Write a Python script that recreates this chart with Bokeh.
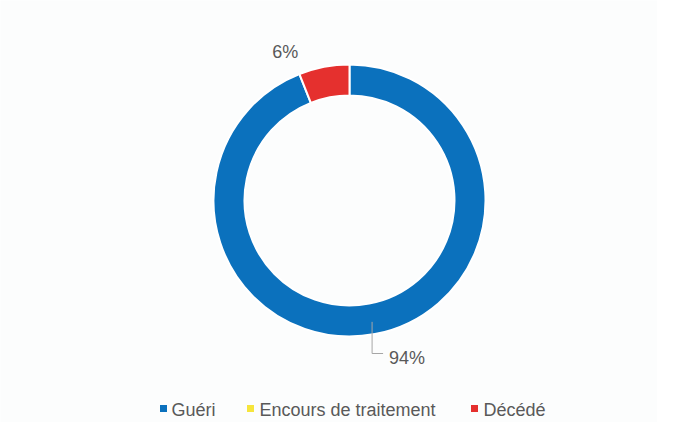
import math
from bokeh.plotting import figure
from bokeh.models import Range1d, ColumnDataSource
from bokeh.core.properties import value
from bokeh.embed import file_html
from bokeh.resources import INLINE

# ---- data ----
categories = ["Guéri", "Encours de traitement", "Décédé"]
values = [94, 0, 6]
colors = ["#0b71bd", "#f6e53c", "#e5302e"]
labels = ["94%", "", "6%"]

# ---- layout ----
W, H = 657, 422
PAGE_H = 438


def Y(img_y):
    return PAGE_H - img_y


p = figure(width=W, height=H, output_backend="svg", toolbar_location=None,
           x_range=Range1d(0, W), y_range=Range1d(PAGE_H - H, PAGE_H),
           min_border=0, background_fill_color="#fcfdfd",
           border_fill_color="#fcfdfd", outline_line_color=None)
p.axis.visible = False
p.grid.visible = False

cx, cy = 349, Y(200)
r_in, r_out = 105, 136
total = float(sum(values))

starts, ends, xs, ys, cols = [], [], [], [], []
mids = []
a = math.pi / 2
for v, c in zip(values, colors):
    e = a - v / total * 2 * math.pi
    mids.append((a + e) / 2)
    if v > 0:
        starts.append(a)
        ends.append(e)
        cols.append(c)
        xs.append(cx)
        ys.append(cy)
    a = e

src = ColumnDataSource(dict(x=xs, y=ys, s=starts, e=ends, c=cols))
p.annular_wedge(x="x", y="y", inner_radius=r_in, outer_radius=r_out,
                start_angle="s", end_angle="e", direction="clock",
                fill_color="c", line_color="white", line_width=2, source=src)

font = value("Liberation Sans")
txt_color = "#595959"
lead_color = "#a6a6a6"

# 94% label with leader line
i = 0
rm = (r_in + r_out) / 2
lx = cx + rm * math.cos(mids[i])
ly = cy + rm * math.sin(mids[i])
ly_end = Y(353)
p.line([lx, lx, lx + 11], [ly - 3, ly_end, ly_end], line_color=lead_color, line_width=1)
p.text(x=[lx + 17], y=[ly_end - 4], text=[labels[i]], text_font=font,
       text_font_size="18px", text_color=txt_color,
       text_align="left", text_baseline="middle")

# 6% label
i = 2
ox = cx + (r_out + 15) * math.cos(mids[i])
oy = cy + (r_out + 15) * math.sin(mids[i])
p.text(x=[ox - 36], y=[oy], text=[labels[i]], text_font=font,
       text_font_size="18px", text_color=txt_color,
       text_align="center", text_baseline="middle")

# legend
sq_x = [163, 250, 474]
tx_x = [171, 259, 483]
leg_y = Y(409)
p.scatter(x=sq_x, y=[leg_y + 1] * 3, marker="square", size=7,
          fill_color=colors, line_color=None)
p.text(x=tx_x, y=[leg_y] * 3, text=categories, text_font=font,
       text_font_size="18px", text_color=txt_color,
       text_align="left", text_baseline="middle")

open("out.html", "w").write(file_html(p, INLINE))
